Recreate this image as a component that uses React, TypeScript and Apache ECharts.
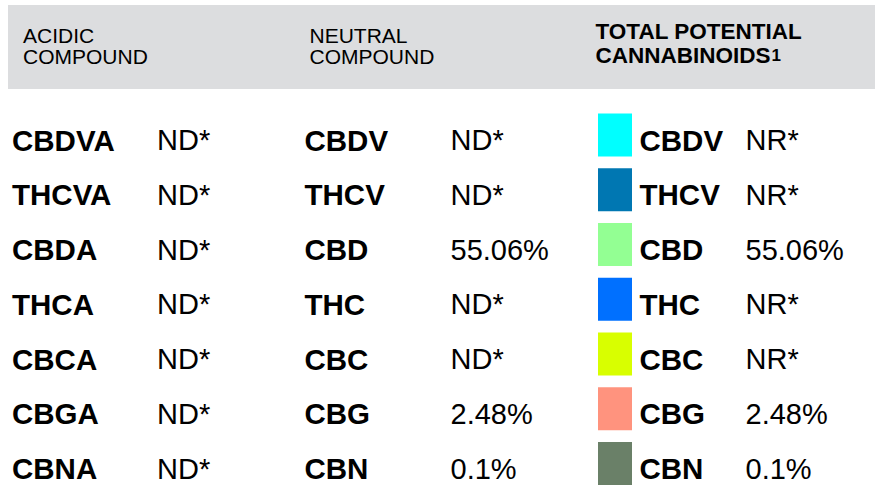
import React, { useEffect, useRef } from "react";
import * as echarts from "echarts";

// ---- data ----
const rowKeys = ["r1", "r2", "r3", "r4", "r5", "r6", "r7"];
const acidicNames = ["CBDVA", "THCVA", "CBDA", "THCA", "CBCA", "CBGA", "CBNA"];
const acidicValues = ["ND*", "ND*", "ND*", "ND*", "ND*", "ND*", "ND*"];
const neutralNames = ["CBDV", "THCV", "CBD", "THC", "CBC", "CBG", "CBN"];
const neutralValues = ["ND*", "ND*", "55.06%", "ND*", "ND*", "2.48%", "0.1%"];
const totalNames = ["CBDV", "THCV", "CBD", "THC", "CBC", "CBG", "CBN"];
const totalValues = ["NR*", "NR*", "55.06%", "NR*", "NR*", "2.48%", "0.1%"];
const swatchColors = ["#00FFFF", "#0077B2", "#93FF93", "#0070FF", "#D8FF00", "#FF937E", "#6A8068"];
const headerAcidic = ["ACIDIC", "COMPOUND"];
const headerNeutral = ["NEUTRAL", "COMPOUND"];
const headerTotal = ["TOTAL POTENTIAL", "CANNABINOIDS"];
const headerTotalSup = "1";

const FONT = '"Liberation Sans", Arial, Helvetica, sans-serif';
const BOLD_SIZE = 29.5;
const BODY_SIZE = 29;
const HEAD_SIZE = 21;
const HEAD_BOLD_SIZE = 22.5;

const COL = {
  acidicName: 12,
  acidicValue: 157,
  neutralName: 304.5,
  neutralValue: 450.5,
  swatchX: 598,
  swatchW: 34,
  swatchH: 43,
  totalName: 639.5,
  totalValue: 745.5,
};

function bodyText(text: string, x: number, y: number, bold: boolean) {
  return {
    type: "text",
    x,
    y,
    style: {
      text,
      fill: "#000000",
      fontSize: bold ? BOLD_SIZE : BODY_SIZE,
      fontWeight: bold ? "bold" : "normal",
      fontFamily: FONT,
      textAlign: "left",
      textVerticalAlign: "middle",
      align: "left",
      verticalAlign: "middle",
    },
  };
}

function headBlock(lines: string[], x: number, y: number) {
  return {
    type: "text",
    x,
    y,
    silent: true,
    style: {
      text: lines.join("\n"),
      fill: "#000000",
      fontSize: HEAD_SIZE,
      fontWeight: "normal",
      fontFamily: FONT,
      lineHeight: 21,
      textAlign: "left",
      textVerticalAlign: "middle",
      align: "left",
      verticalAlign: "middle",
    },
  };
}

export default function App() {
  const ref = useRef<HTMLDivElement>(null);

  useEffect(() => {
    if (!ref.current) return;
    const chart = echarts.init(ref.current, undefined, { renderer: "svg" });
    const band = 55.7;
    const firstCenter = 137.5;

    const option: any = {
      animation: false,
      backgroundColor: "#ffffff",
      grid: {
        left: 0,
        right: 0,
        top: firstCenter - band / 2,
        height: band * rowKeys.length,
        containLabel: false,
      },
      xAxis: { type: "value", min: 0, max: 882, show: false },
      yAxis: { type: "category", data: rowKeys, inverse: true, show: false },
      graphic: [
        {
          type: "rect",
          silent: true,
          z: -1,
          shape: { x: 8, y: 5, width: 867, height: 84 },
          style: { fill: "#DCDDDF" },
        },
        headBlock(headerAcidic, 23, 45.5),
        headBlock(headerNeutral, 309.5, 45.5),
        {
          type: "text",
          x: 595.5,
          y: 43.6,
          silent: true,
          style: {
            text: `{b|${headerTotal[0]}}\n{b|${headerTotal[1]}}{s|${headerTotalSup}}`,
            fill: "#000000",
            fontFamily: FONT,
            fontWeight: "bold",
            fontSize: HEAD_BOLD_SIZE,
            lineHeight: 24,
            textAlign: "left",
            textVerticalAlign: "middle",
            align: "left",
            verticalAlign: "middle",
            rich: {
              b: {
                fontFamily: FONT,
                fontWeight: "bold",
                fontSize: HEAD_BOLD_SIZE,
                lineHeight: 24,
                fill: "#000000",
              },
              s: {
                fontFamily: FONT,
                fontWeight: "bold",
                fontSize: 17,
                lineHeight: 24,
                fill: "#000000",
                padding: [0, 0, 0, 1],
              },
            },
          },
        },
      ],
      series: [
        {
          type: "custom",
          coordinateSystem: "cartesian2d",
          encode: { x: 0, y: 1 },
          data: rowKeys.map((k, i) => [0, i]),
          renderItem: (params: any, api: any) => {
            const i = params.dataIndex;
            const row = api.value(1);
            const cy = api.coord([0, row])[1];
            const px = (v: number) => api.coord([v, row])[0];
            const ty = cy + 3;
            const sy = cy - 2;
            return {
              type: "group",
              children: [
                bodyText(acidicNames[i], px(COL.acidicName), ty, true),
                bodyText(acidicValues[i], px(COL.acidicValue), ty, false),
                bodyText(neutralNames[i], px(COL.neutralName), ty, true),
                bodyText(neutralValues[i], px(COL.neutralValue), ty, false),
                {
                  type: "rect",
                  shape: {
                    x: px(COL.swatchX),
                    y: sy - COL.swatchH / 2,
                    width: COL.swatchW,
                    height: COL.swatchH,
                  },
                  style: { fill: swatchColors[i] },
                },
                bodyText(totalNames[i], px(COL.totalName), ty, true),
                bodyText(totalValues[i], px(COL.totalValue), ty, false),
              ],
            };
          },
        },
      ],
    };
    chart.setOption(option);
    return () => chart.dispose();
  }, []);

  return (
    <div
      ref={ref}
      style={{ position: "absolute", left: 0, top: 0, width: 882, height: 493 }}
    />
  );
}
